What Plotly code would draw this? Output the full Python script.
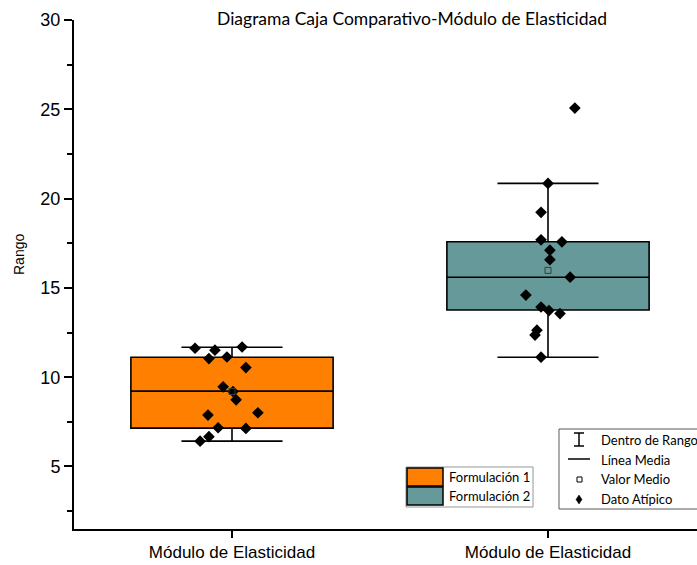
import plotly.graph_objects as go

# ---- data -------------------------------------------------------------
categories = ["Módulo de Elasticidad", "Módulo de Elasticidad"]
series_names = ["Formulación 1", "Formulación 2"]

# box statistics per formulation
lower_whisker = [6.42, 11.12]
q1_values = [7.15, 13.76]
median_values = [9.22, 15.60]
q3_values = [11.12, 17.58]
upper_whisker = [11.68, 20.85]
mean_values = [9.20, 15.98]

# individual measurements
f1_values = [11.62, 11.51, 11.69, 11.04, 11.13, 10.54, 9.46, 9.20, 8.73,
             7.88, 8.01, 7.17, 7.13, 6.67, 6.42]
f2_values = [25.07, 20.85, 19.23, 17.69, 17.58, 17.11, 16.58, 15.60, 14.60,
             13.93, 13.73, 13.56, 12.63, 12.36, 11.12]

# horizontal scatter of the measurements around each box centre
f1_jitter = [-0.117, -0.054, 0.032, -0.073, -0.016, 0.044, -0.028, 0.003,
             0.013, -0.076, 0.082, -0.044, 0.044, -0.073, -0.101]
f2_jitter = [0.085, 0.0, -0.022, -0.022, 0.044, 0.006, 0.006, 0.070,
             -0.070, -0.022, 0.003, 0.038, -0.035, -0.041, -0.022]

y_ticks = [5, 10, 15, 20, 25, 30]

# ---- styling ------------------------------------------------------------
W, H = 697, 565
L, R, T, B = 74, 0, 20, 36
colors = ["rgb(255,128,0)", "rgb(102,153,153)"]
TEXT_FONT = "Lato"
AXIS_FONT = "Liberation Sans"


def px(x):
    return (x - L) / (W - L - R)


def py(y):
    return (H - B - y) / (H - T - B)


fig = go.Figure()

values = [f1_values, f2_values]
jitters = [f1_jitter, f2_jitter]

for i in range(2):
    fig.add_trace(go.Box(
        x=[i],
        q1=[q1_values[i]], median=[median_values[i]], q3=[q3_values[i]],
        lowerfence=[lower_whisker[i]], upperfence=[upper_whisker[i]],
        width=0.64, whiskerwidth=0.5,
        fillcolor=colors[i],
        line=dict(color="black", width=1.6),
        boxpoints=False, hoverinfo="skip",
        name=series_names[i], showlegend=False,
    ))

for i in range(2):
    fig.add_trace(go.Scatter(
        x=[i + j for j in jitters[i]], y=values[i],
        mode="markers",
        marker=dict(symbol="diamond", size=9, color="black", line=dict(width=0)),
        showlegend=False, hoverinfo="y",
    ))
    fig.add_trace(go.Scatter(
        x=[i], y=[mean_values[i]], mode="markers",
        marker=dict(symbol="square-open", size=6, color="rgb(60,60,60)",
                    line=dict(width=1)),
        showlegend=False, hoverinfo="y",
    ))

fig.update_xaxes(
    range=[-0.5, (W - L - R) / 316 - 0.5],
    tickvals=[0, 1], ticktext=categories,
    showline=True, linecolor="black", linewidth=2,
    ticks="outside", ticklen=7, tickwidth=2, tickcolor="black",
    showgrid=False, zeroline=False,
    tickfont=dict(family=AXIS_FONT, size=17, color="black"),
)
fig.update_yaxes(
    range=[1.5, 30],
    tickvals=y_ticks,
    showline=True, linecolor="black", linewidth=2,
    ticks="outside", ticklen=8, tickwidth=2, tickcolor="black",
    minor=dict(ticks="outside", ticklen=5, tickwidth=2, tickcolor="black",
               dtick=2.5, tick0=0),
    showgrid=False, zeroline=False,
    tickfont=dict(family=AXIS_FONT, size=18, color="black"),
)

shapes = []
annotations = []

# title and axis title
annotations.append(dict(
    text="Diagrama Caja Comparativo-Módulo de Elasticidad",
    x=px(412), y=py(18), xref="paper", yref="paper",
    xanchor="center", yanchor="middle", showarrow=False,
    font=dict(family=TEXT_FONT, size=17.5, color="black"),
))
annotations.append(dict(
    text="Rango", x=px(19), y=py(255), xref="paper", yref="paper",
    xanchor="center", yanchor="middle", showarrow=False, textangle=-90,
    font=dict(family=AXIS_FONT, size=14, color="black"),
))

# legend of the two formulations
shapes.append(dict(type="rect", xref="paper", yref="paper",
                   x0=px(406), x1=px(533), y0=py(467), y1=py(507),
                   line=dict(color="rgb(150,150,150)", width=1),
                   fillcolor="white"))
for i, name in enumerate(series_names):
    top = 468 + i * 19
    shapes.append(dict(type="rect", xref="paper", yref="paper",
                       x0=px(407), x1=px(443), y0=py(top), y1=py(top + 18),
                       line=dict(color="black", width=1.5),
                       fillcolor=colors[i]))
    annotations.append(dict(
        text=name, x=px(447), y=py(top + 9), xref="paper", yref="paper",
        xanchor="left", yanchor="middle", showarrow=False,
        font=dict(family=TEXT_FONT, size=13, color="black"),
    ))

# legend of the box elements
shapes.append(dict(type="rect", xref="paper", yref="paper",
                   x0=px(559), x1=px(760), y0=py(429), y1=py(509),
                   line=dict(color="rgb(90,90,90)", width=1),
                   fillcolor="white"))
# range glyph
shapes.append(dict(type="line", xref="paper", yref="paper",
                   x0=px(579), x1=px(579), y0=py(433), y1=py(446),
                   line=dict(color="black", width=1.5)))
for yy in (433, 446):
    shapes.append(dict(type="line", xref="paper", yref="paper",
                       x0=px(574), x1=px(584), y0=py(yy), y1=py(yy),
                       line=dict(color="black", width=1.5)))
# median glyph
shapes.append(dict(type="line", xref="paper", yref="paper",
                   x0=px(568), x1=px(590), y0=py(459), y1=py(459),
                   line=dict(color="black", width=1.5)))
# mean glyph
shapes.append(dict(type="rect", xref="paper", yref="paper",
                   x0=px(577), x1=px(582), y0=py(477), y1=py(482),
                   line=dict(color="black", width=1)))
# outlier glyph
shapes.append(dict(type="path", xref="paper", yref="paper",
                   path=("M {a},{b} L {c},{d} L {a},{e} L {f},{d} Z".format(
                       a=px(579), b=py(495), c=px(582), d=py(499.5),
                       e=py(504), f=px(576))),
                   line=dict(color="black", width=0.5), fillcolor="black"))

legend2_labels = ["Dentro de Rango", "Línea Media", "Valor Medio", "Dato Atípico"]
for k, lab in enumerate(legend2_labels):
    annotations.append(dict(
        text=lab, x=px(599), y=py(440 + 19.7 * k), xref="paper", yref="paper",
        xanchor="left", yanchor="middle", showarrow=False,
        font=dict(family=TEXT_FONT, size=13, color="black"),
    ))

fig.update_layout(
    width=W, height=H,
    margin=dict(l=L, r=R, t=T, b=B),
    paper_bgcolor="white", plot_bgcolor="white",
    shapes=shapes, annotations=annotations,
    showlegend=False,
)

fig.write_html("out.html")
